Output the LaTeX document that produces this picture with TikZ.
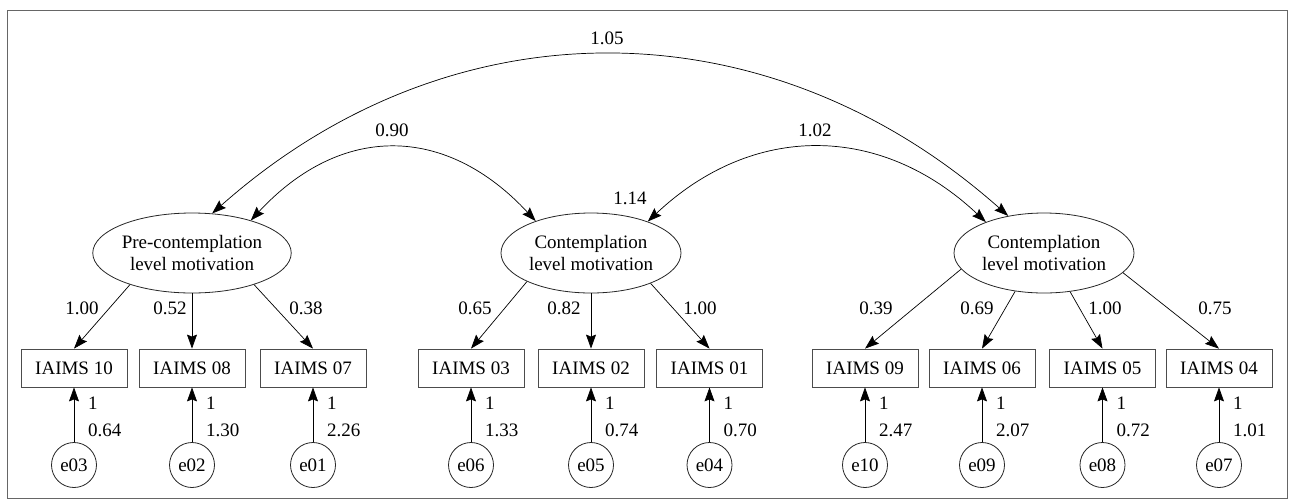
\documentclass[tikz,border=0pt]{standalone}
\usepackage{fontspec}
\setmainfont{Liberation Serif}
\usetikzlibrary{shapes.geometric,arrows.meta}
\begin{document}
\begin{tikzpicture}[x=1pt,y=-1pt,
  font=\fontsize{19}{22}\selectfont,
  lat/.style={ellipse,draw=black!85,line width=0.8pt,minimum width=180pt,minimum height=80pt,inner sep=0pt,align=center},
  obs/.style={rectangle,draw=black!70,line width=0.8pt,minimum width=106pt,minimum height=38pt,inner sep=0pt},
  err/.style={circle,draw=black!85,line width=0.8pt,minimum size=45pt,inner sep=0pt},
  ldarrow/.style={line width=0.7pt,-{Stealth[length=14pt,width=10pt,inset=2pt]}},
  cov/.style={line width=0.7pt,{Stealth[length=14pt,width=10pt,inset=2pt]}-{Stealth[length=14pt,width=10pt,inset=2pt]}},
  lbl/.style={inner sep=0pt}
]
\useasboundingbox (0,0) rectangle (1293,499);
\draw[black!60,line width=0.9pt] (7,10) rectangle (1287,498);

% latent variables
\node[lat] (L1) at (192,253) {Pre-contemplation\\level motivation};
\node[lat] (L2) at (591,253) {Contemplation\\level motivation};
\node[lat] (L3) at (1044,253) {Contemplation\\level motivation};

% observed variables, errors
\foreach \n/\x/\e/\v in {10/74/03/0.64, 08/192/02/1.30, 07/313/01/2.26, 03/471/06/1.33, 02/591/05/0.74, 01/709.5/04/0.70, 09/865/10/2.47, 06/982/09/2.07, 05/1102.5/08/0.72, 04/1219/07/1.01}{
  \node[obs] (B\n) at (\x,368) {IAIMS \n};
  \node[err] (E\e) at (\x,465) {e\e};
  \draw[ldarrow] (E\e) -- (B\n);
  \node[lbl,anchor=west] (one\e) at (\x+14,403) {1};
  \node[lbl,anchor=west] (var\e) at (\x+14,430) {\v};
}

% loadings
\draw[ldarrow] (L1.207) -- (B10.north);
\draw[ldarrow] (L1.south) -- (B08.north);
\draw[ldarrow] (L1.333) -- (B07.north);
\draw[ldarrow] (L2.204) -- (B03.north);
\draw[ldarrow] (L2.south) -- (B02.north);
\draw[ldarrow] (L2.333) -- (B01.north);
\draw[ldarrow] (L3.191) -- (B09.north);
\draw[ldarrow] (L3.233) -- (B06.north);
\draw[ldarrow] (L3.304) -- (B05.north);
\draw[ldarrow] (L3.346) -- (B04.north);

\foreach \t/\x in {1.00/82, 0.52/170, 0.38/306, 0.65/475, 0.82/564, 1.00/700, 0.39/876, 0.69/977, 1.00/1105, 0.75/1215}{
  \node[lbl] at (\x,308) {\t};
}

% covariances
\draw[cov] (L1.63) .. controls +(240,-213) and +(-240,-213) .. (L3.134);
\draw[cov] (L1.29) .. controls +(90,-97) and +(-90,-97) .. (L2.150);
\draw[cov] (L2.29) .. controls +(105,-99) and +(-105,-99) .. (L3.152);

\node[lbl] (c105) at (607,38) {1.05};
\node[lbl] (c090) at (392,130) {0.90};
\node[lbl] (c102) at (815,130) {1.02};
\node[lbl] (v114) at (630,198) {1.14};
\end{tikzpicture}
\end{document}
